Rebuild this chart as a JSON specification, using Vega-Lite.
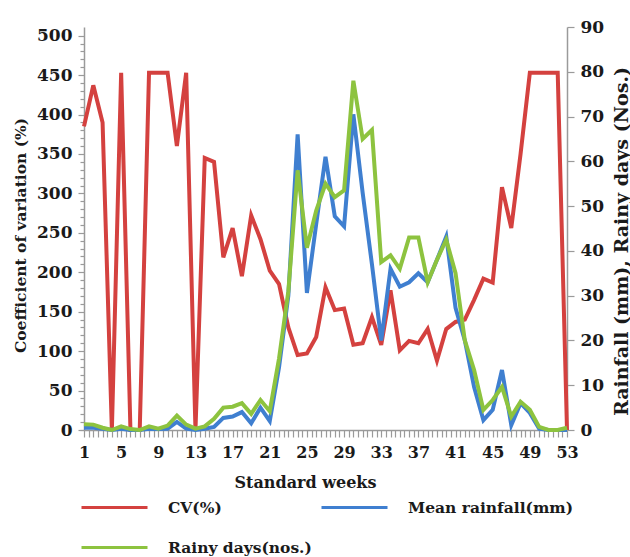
{
  "$schema": "https://vega.github.io/schema/vega-lite/v6.json",
  "width": 483,
  "height": 403,
  "autosize": {"type": "none"},
  "padding": {"left": 84, "top": 27, "right": 63, "bottom": 127},
  "background": "white",
  "config": {
    "view": {"stroke": null},
    "font": "DejaVu Serif",
    "axis": {
      "labelFont": "DejaVu Serif", "labelFontWeight": "bold", "labelColor": "#1a1a1a",
      "titleFont": "DejaVu Serif", "titleFontWeight": "bold", "titleColor": "#1a1a1a",
      "domainColor": "#9a9a9a", "tickColor": "#9a9a9a", "grid": false, "domainWidth": 1.5, "tickWidth": 1.2
    },
    "legend": {
      "orient": "none", "legendX": 18, "legendY": 468, "direction": "horizontal", "columns": 2,
      "symbolType": "M-3,0L3,0", "symbolSize": 484, "symbolStrokeWidth": 3,
      "labelFont": "DejaVu Serif", "labelFontWeight": "bold", "labelFontSize": 15.5, "labelColor": "#1a1a1a",
      "labelOffset": 41, "columnPadding": 3, "rowPadding": 19, "labelLimit": 300
    }
  },
  "data": {"values": [
    {"week": 1, "cv": 385, "rf": 0.5, "rd": 1.3},
    {"week": 2, "cv": 437, "rf": 0.5, "rd": 1.2},
    {"week": 3, "cv": 390, "rf": 0.3, "rd": 0.5},
    {"week": 4, "cv": 0, "rf": 0, "rd": 0},
    {"week": 5, "cv": 453, "rf": 0.3, "rd": 0.8},
    {"week": 6, "cv": 0, "rf": 0, "rd": 0.2},
    {"week": 7, "cv": 0, "rf": 0, "rd": 0},
    {"week": 8, "cv": 453, "rf": 0.3, "rd": 0.8},
    {"week": 9, "cv": 453, "rf": 0.2, "rd": 0.3},
    {"week": 10, "cv": 453, "rf": 0.3, "rd": 1},
    {"week": 11, "cv": 360, "rf": 1.8, "rd": 3.2},
    {"week": 12, "cv": 453, "rf": 0.3, "rd": 1.2},
    {"week": 13, "cv": 0, "rf": 0, "rd": 0.3},
    {"week": 14, "cv": 345, "rf": 0.3, "rd": 0.8},
    {"week": 15, "cv": 340, "rf": 0.7, "rd": 2.5},
    {"week": 16, "cv": 219, "rf": 2.7, "rd": 5},
    {"week": 17, "cv": 256, "rf": 3, "rd": 5.2},
    {"week": 18, "cv": 195, "rf": 4, "rd": 6},
    {"week": 19, "cv": 272, "rf": 1.5, "rd": 3.6},
    {"week": 20, "cv": 242, "rf": 5, "rd": 6.7},
    {"week": 21, "cv": 202, "rf": 2, "rd": 4.2},
    {"week": 22, "cv": 185, "rf": 14, "rd": 16},
    {"week": 23, "cv": 130, "rf": 30, "rd": 31},
    {"week": 24, "cv": 95, "rf": 66, "rd": 58},
    {"week": 25, "cv": 97, "rf": 30.6, "rd": 40.7},
    {"week": 26, "cv": 118, "rf": 46, "rd": 49},
    {"week": 27, "cv": 181, "rf": 61, "rd": 55},
    {"week": 28, "cv": 152, "rf": 47.7, "rd": 52},
    {"week": 29, "cv": 154, "rf": 45.5, "rd": 53.5},
    {"week": 30, "cv": 108, "rf": 70.5, "rd": 78},
    {"week": 31, "cv": 110, "rf": 53, "rd": 65},
    {"week": 32, "cv": 143, "rf": 37, "rd": 67},
    {"week": 33, "cv": 108, "rf": 20, "rd": 37.5},
    {"week": 34, "cv": 177, "rf": 36, "rd": 39},
    {"week": 35, "cv": 101, "rf": 32, "rd": 36},
    {"week": 36, "cv": 113, "rf": 33, "rd": 43},
    {"week": 37, "cv": 110, "rf": 35, "rd": 43},
    {"week": 38, "cv": 128, "rf": 33, "rd": 33},
    {"week": 39, "cv": 88, "rf": 38, "rd": 38},
    {"week": 40, "cv": 128, "rf": 43.2, "rd": 42.5},
    {"week": 41, "cv": 137, "rf": 27.3, "rd": 35},
    {"week": 42, "cv": 140, "rf": 20, "rd": 20},
    {"week": 43, "cv": 165, "rf": 9.6, "rd": 13.4},
    {"week": 44, "cv": 192, "rf": 2.2, "rd": 4.5},
    {"week": 45, "cv": 187, "rf": 4.5, "rd": 6.7},
    {"week": 46, "cv": 308, "rf": 13.4, "rd": 9.6},
    {"week": 47, "cv": 256, "rf": 1.1, "rd": 3},
    {"week": 48, "cv": 350, "rf": 6, "rd": 6.3},
    {"week": 49, "cv": 453, "rf": 3.8, "rd": 4.5},
    {"week": 50, "cv": 453, "rf": 0.3, "rd": 0.7},
    {"week": 51, "cv": 453, "rf": 0, "rd": 0},
    {"week": 52, "cv": 453, "rf": 0, "rd": 0},
    {"week": 53, "cv": 0, "rf": 0, "rd": 0.5}
  ]},
  "transform": [{"fold": ["cv", "rf", "rd"], "as": ["key", "val"]}],
  "encoding": {
    "x": {
      "field": "week", "type": "quantitative",
      "scale": {"domain": [1, 53], "nice": false, "zero": false},
      "axis": {
        "values": [1,1.5,2,2.5,3,3.5,4,4.5,5,5.5,6,6.5,7,7.5,8,8.5,9,9.5,10,10.5,11,11.5,12,12.5,13,13.5,14,14.5,15,15.5,16,16.5,17,17.5,18,18.5,19,19.5,20,20.5,21,21.5,22,22.5,23,23.5,24,24.5,25,25.5,26,26.5,27,27.5,28,28.5,29,29.5,30,30.5,31,31.5,32,32.5,33,33.5,34,34.5,35,35.5,36,36.5,37,37.5,38,38.5,39,39.5,40,40.5,41,41.5,42,42.5,43,43.5,44,44.5,45,45.5,46,46.5,47,47.5,48,48.5,49,49.5,50,50.5,51,51.5,52,52.5,53],
        "labelExpr": "(datum.value - 1) % 4 == 0 ? format(datum.value, 'd') : ''",
        "labelFontSize": 16, "labelPadding": 7, "tickSize": 7, "labelOverlap": false, "labelFlush": false,
        "title": "Standard weeks", "titleFontSize": 16, "titleX": 221, "titleY": 52, "titleBaseline": "middle"
      }
    }
  },
  "layer": [
    {
      "transform": [{"filter": "datum.key == 'cv'"}],
      "layer": [
        {
          "mark": {"type": "line", "strokeWidth": 4},
          "encoding": {
            "y": {
              "field": "val", "type": "quantitative",
              "scale": {"domain": [0, 511], "nice": false},
              "axis": {
                "orient": "left", "values": [0,50,100,150,200,250,300,350,400,450,500],
                "labelFontSize": 17, "tickSize": 6, "labelPadding": 6,
                "title": "Coefficient of variation (%)", "titleFontSize": 15.5,
                "titleX": -64, "titleY": 208, "titleAngle": 270, "titleBaseline": "middle"
              }
            },
            "color": {
              "field": "key", "type": "nominal",
              "scale": {"domain": ["cv", "rf", "rd"], "range": ["#d4413f", "#3f7fd0", "#8dc33f"]},
              "legend": {"title": null, "labelExpr": "datum.value == 'cv' ? 'CV(%)' : datum.value == 'rf' ? 'Mean rainfall(mm)' : 'Rainy days(nos.)'"}
            }
          }
        },
        {
          "mark": {"type": "line", "strokeOpacity": 0},
          "encoding": {
            "y": {
              "field": "val", "type": "quantitative",
              "scale": {"domain": [0, 511], "nice": false},
              "axis": {
                "orient": "left", "values": [0,10,20,30,40,60,70,80,90,110,120,130,140,160,170,180,190,210,220,230,240,260,270,280,290,310,320,330,340,360,370,380,390,410,420,430,440,460,470,480,490],
                "labels": false, "domain": false, "tickSize": 4, "title": null
              }
            }
          }
        }
      ],
      "resolve": {"axis": {"y": "independent"}}
    },
    {
      "layer": [
        {
          "transform": [{"filter": "datum.key == 'rf'"}],
          "mark": {"type": "line", "strokeWidth": 4},
          "encoding": {
            "y": {
              "field": "val", "type": "quantitative",
              "scale": {"domain": [0, 90], "nice": false},
              "axis": {
                "orient": "right", "values": [0,10,20,30,40,50,60,70,80,90],
                "labelFontSize": 17, "tickSize": 7, "labelPadding": 6,
                "title": "Rainfall (mm), Rainy days (Nos.)", "titleFontSize": 19,
                "titleX": 54, "titleY": 214, "titleAngle": 270, "titleBaseline": "middle"
              }
            },
            "color": {"field": "key", "type": "nominal"}
          }
        },
        {
          "transform": [{"filter": "datum.key == 'rd'"}],
          "mark": {"type": "line", "strokeWidth": 4},
          "encoding": {
            "y": {"field": "val", "type": "quantitative"},
            "color": {"field": "key", "type": "nominal"}
          }
        }
      ]
    }
  ],
  "resolve": {"scale": {"y": "independent"}}
}
